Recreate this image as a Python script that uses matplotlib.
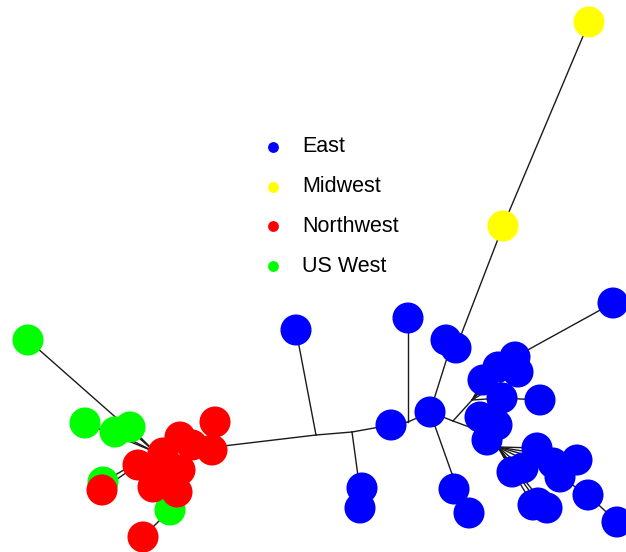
import matplotlib.pyplot as plt

# Tree layout: node positions (layout units), region of each node (None = internal split)
node_names = [
    "h_nw", "j0", "j1", "j2", "j3", "j4", "j5", "j6", "j7", "j8", "j9", "j10",
    "g1", "g2", "g3", "g4", "g5", "g6",
    "r1", "r2", "r3", "r4", "r5", "r6", "r7", "r8", "r9", "r10", "r11", "r12", "r13",
    "b1", "b2", "b3", "b4", "b5", "b6", "b7", "b8", "b9", "b10", "b11", "b12", "b13",
    "b14", "b15", "b16", "b17", "b18", "b19", "b20", "b21", "b22", "b23", "b24", "b25",
    "b26", "b27", "b28", "b29", "b30", "b31",
    "y1", "y2",
]
node_x = [
    155, 215, 316, 352, 358, 408, 447, 452, 453, 472, 472, 498,
    28, 85, 115, 130, 103, 170,
    215, 212, 180, 192, 163, 138, 167, 180, 153, 177, 160, 102, 143,
    296, 362, 360, 391, 408, 430, 446, 456, 454, 469, 515, 518, 498,
    483, 502, 540, 480, 497, 487, 613, 537, 553, 577, 560, 512,
    523, 538, 547, 533, 588, 617,
    589, 503,
]
node_y = [
    452, 447, 435, 432, 476, 422, 358, 474, 421, 400, 428, 447,
    340, 423, 432, 427, 482, 510,
    422, 450, 437, 445, 453, 465, 473, 470, 487, 492, 483, 490, 537,
    330, 488, 508, 425, 318, 412, 340, 348, 489, 513, 357, 372, 367,
    380, 398, 400, 417, 425, 440, 303, 448, 463, 460, 477, 472,
    468, 503, 508, 505, 495, 522,
    22, 226,
]
node_group = (
    [None] * 12
    + ["US West"] * 6
    + ["Northwest"] * 13
    + ["East"] * 31
    + ["Midwest"] * 2
)

edges = [
    ("h_nw", "j0"), ("j0", "r1"), ("j0", "r2"), ("j0", "j1"),
    ("h_nw", "r3"), ("h_nw", "r4"), ("h_nw", "r5"), ("h_nw", "r6"), ("h_nw", "r7"),
    ("h_nw", "r8"), ("h_nw", "r9"), ("h_nw", "r10"), ("h_nw", "r11"), ("h_nw", "r12"),
    ("h_nw", "g1"), ("h_nw", "g2"), ("h_nw", "g3"), ("h_nw", "g4"), ("h_nw", "g5"),
    ("h_nw", "g6"), ("g6", "r13"),
    ("j1", "b1"), ("j1", "j2"), ("j2", "j3"), ("j3", "b2"), ("j3", "b3"),
    ("j2", "b4"), ("b4", "j4"), ("j4", "b5"), ("j4", "b6"),
    ("b6", "j5"), ("j5", "b7"), ("j5", "b8"), ("b8", "y2"), ("y2", "y1"),
    ("b6", "j6"), ("j6", "b9"), ("j6", "b10"),
    ("b6", "j7"), ("j7", "j8"), ("j7", "j9"),
    ("j8", "b13"), ("j8", "b14"), ("j8", "b11"), ("j8", "b12"), ("j8", "b15"),
    ("b15", "b16"), ("b11", "b20"),
    ("j9", "b17"), ("j9", "b18"), ("j9", "b19"), ("j9", "j10"),
    ("j10", "b21"), ("j10", "b22"), ("j10", "b23"), ("j10", "b25"), ("j10", "b26"),
    ("j10", "b27"), ("j10", "b28"), ("j10", "b29"), ("j10", "b24"),
    ("b24", "b30"), ("b30", "b31"),
]

regions = ["East", "Midwest", "Northwest", "US West"]
region_colors = {"East": "#0000ff", "Midwest": "#ffff00", "Northwest": "#ff0000", "US West": "#00ff00"}
draw_order = ["US West", "Northwest", "East", "Midwest"]

pos = {n: (x, y) for n, x, y in zip(node_names, node_x, node_y)}

fig = plt.figure(figsize=(6.26, 5.52), dpi=100)
ax = fig.add_axes([0, 0, 1, 1])
ax.set_xlim(0, 626)
ax.set_ylim(552, 0)
ax.axis("off")

for a, b in edges:
    (x0, y0), (x1, y1) = pos[a], pos[b]
    ax.plot([x0, x1], [y0, y1], color="#1a1a1a", lw=1.0, zorder=1)

for grp in draw_order:
    xs = [x for x, g in zip(node_x, node_group) if g == grp]
    ys = [y for y, g in zip(node_y, node_group) if g == grp]
    ax.scatter(xs, ys, s=500, color=region_colors[grp], edgecolors="none", zorder=2)

# legend
for i, reg in enumerate(regions):
    ly = 147 + i * 39.7
    ax.plot(273, ly, "o", ms=7.8, color=region_colors[reg], mec="none", zorder=3)
    ax.text(302, ly, reg, fontsize=15.5, family="Liberation Sans", va="center", ha="left")

fig.savefig("out.png", dpi=100)
